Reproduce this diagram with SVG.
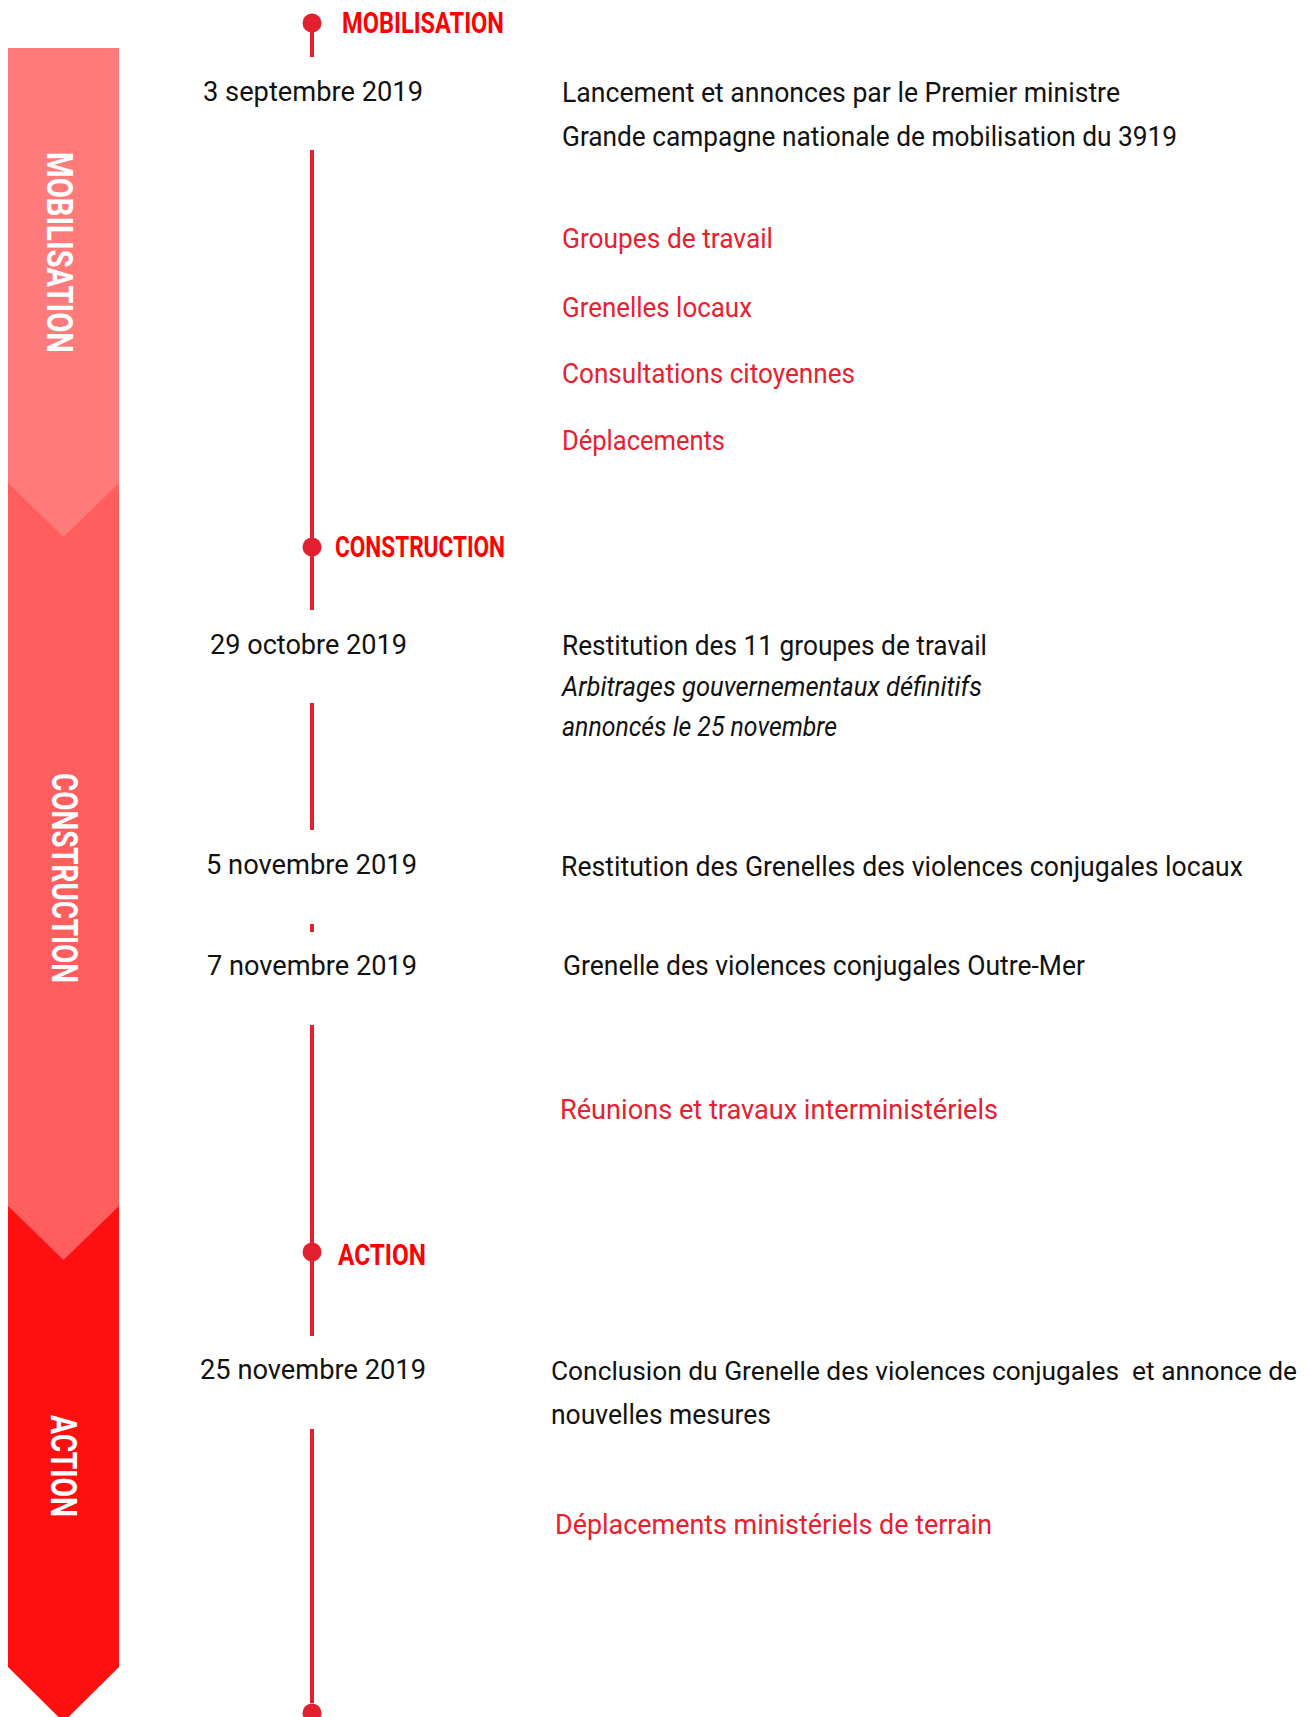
<svg xmlns="http://www.w3.org/2000/svg" width="1315" height="1717" viewBox="0 0 1315 1717">
<style>
.t{font-family:Roboto,"Liberation Sans",sans-serif;font-size:28px;fill:#111}
.r{fill:#E8202F}
.i{font-style:italic}
.h{font-family:Roboto,"Liberation Sans",sans-serif;font-size:29px;font-weight:bold;fill:#FF0000}
.b{font-family:Roboto,"Liberation Sans",sans-serif;font-size:36px;font-weight:bold;fill:#FFFFFF}
.ln{stroke:#E3202F;stroke-width:4;fill:none}
.dot{fill:#E3202F}
</style>
<rect width="1315" height="1717" fill="#FFFFFF"/>
<g id="phase-action">
<polygon points="8,1200 119,1200 119,1667 63.5,1722 8,1667" fill="#FF1010"/>
<text class="b" transform="translate(51,1466) rotate(90)" text-anchor="middle" textLength="102" lengthAdjust="spacingAndGlyphs">ACTION</text>
</g>
<g id="phase-construction">
<polygon points="8,470 119,470 119,1206 63.5,1260 8,1206" fill="#FF5E5E"/>
<text class="b" transform="translate(52,878) rotate(90)" text-anchor="middle" textLength="210" lengthAdjust="spacingAndGlyphs">CONSTRUCTION</text>
</g>
<g id="phase-mobilisation">
<polygon points="8,48 119,48 119,483 63.5,537 8,483" fill="#FF7B7B"/>
<text class="b" transform="translate(47,252.5) rotate(90)" text-anchor="middle" textLength="201" lengthAdjust="spacingAndGlyphs">MOBILISATION</text>
</g>
<g id="connectors">
<line class="ln" x1="312" y1="23" x2="312" y2="57"/>
<line class="ln" x1="312" y1="150" x2="312" y2="610"/>
<line class="ln" x1="312" y1="703" x2="312" y2="830"/>
<line class="ln" x1="312" y1="924" x2="312" y2="932"/>
<line class="ln" x1="312" y1="1025" x2="312" y2="1336"/>
<line class="ln" x1="312" y1="1429" x2="312" y2="1703"/>
</g>
<g id="milestone-mobilisation">
<circle class="dot" cx="312" cy="23" r="9.5"/>
<text class="h" x="342" y="33" textLength="162" lengthAdjust="spacingAndGlyphs">MOBILISATION</text>
</g>
<g id="milestone-construction">
<circle class="dot" cx="312" cy="547" r="9.5"/>
<text class="h" x="335" y="557" textLength="170" lengthAdjust="spacingAndGlyphs">CONSTRUCTION</text>
</g>
<g id="milestone-action">
<circle class="dot" cx="312" cy="1252" r="9.5"/>
<text class="h" x="338" y="1265" textLength="88" lengthAdjust="spacingAndGlyphs">ACTION</text>
</g>
<g id="milestone-end">
<circle class="dot" cx="312" cy="1713" r="9.5"/>
</g>
<g id="event-3-sept">
<text class="t" x="203" y="101" textLength="220" lengthAdjust="spacingAndGlyphs">3 septembre 2019</text>
<text class="t" x="562" y="102" textLength="558" lengthAdjust="spacingAndGlyphs">Lancement et annonces par le Premier ministre</text>
<text class="t" x="562" y="146" textLength="615" lengthAdjust="spacingAndGlyphs">Grande campagne nationale de mobilisation du 3919</text>
</g>
<g id="activities-mobilisation">
<text class="t r" x="562" y="248" textLength="211" lengthAdjust="spacingAndGlyphs">Groupes de travail</text>
<text class="t r" x="562" y="317" textLength="190" lengthAdjust="spacingAndGlyphs">Grenelles locaux</text>
<text class="t r" x="562" y="383" textLength="293" lengthAdjust="spacingAndGlyphs">Consultations citoyennes</text>
<text class="t r" x="562" y="450" textLength="163" lengthAdjust="spacingAndGlyphs">Déplacements</text>
</g>
<g id="event-29-oct">
<text class="t" x="210" y="654" textLength="197" lengthAdjust="spacingAndGlyphs">29 octobre 2019</text>
<text class="t" x="562" y="655" textLength="425" lengthAdjust="spacingAndGlyphs">Restitution des 11 groupes de travail</text>
<text class="t i" x="562" y="696" textLength="420" lengthAdjust="spacingAndGlyphs">Arbitrages gouvernementaux définitifs</text>
<text class="t i" x="562" y="736" textLength="275" lengthAdjust="spacingAndGlyphs">annoncés le 25 novembre</text>
</g>
<g id="event-5-nov">
<text class="t" x="206" y="874" textLength="211" lengthAdjust="spacingAndGlyphs">5 novembre 2019</text>
<text class="t" x="561" y="876" textLength="682" lengthAdjust="spacingAndGlyphs">Restitution des Grenelles des violences conjugales locaux</text>
</g>
<g id="event-7-nov">
<text class="t" x="207" y="975" textLength="210" lengthAdjust="spacingAndGlyphs">7 novembre 2019</text>
<text class="t" x="563" y="975" textLength="522" lengthAdjust="spacingAndGlyphs">Grenelle des violences conjugales Outre-Mer</text>
</g>
<g id="activities-construction">
<text class="t r" x="560" y="1119" textLength="438" lengthAdjust="spacingAndGlyphs">Réunions et travaux interministériels</text>
</g>
<g id="event-25-nov">
<text class="t" x="200" y="1379" textLength="226" lengthAdjust="spacingAndGlyphs">25 novembre 2019</text>
<text class="t" x="551" y="1380" style="font-size:26px" xml:space="preserve" textLength="746" lengthAdjust="spacingAndGlyphs">Conclusion du Grenelle des violences conjugales  et annonce de</text>
<text class="t" x="551" y="1424" textLength="220" lengthAdjust="spacingAndGlyphs">nouvelles mesures</text>
</g>
<g id="activities-action">
<text class="t r" x="555" y="1534" textLength="437" lengthAdjust="spacingAndGlyphs">Déplacements ministériels de terrain</text>
</g>
</svg>
